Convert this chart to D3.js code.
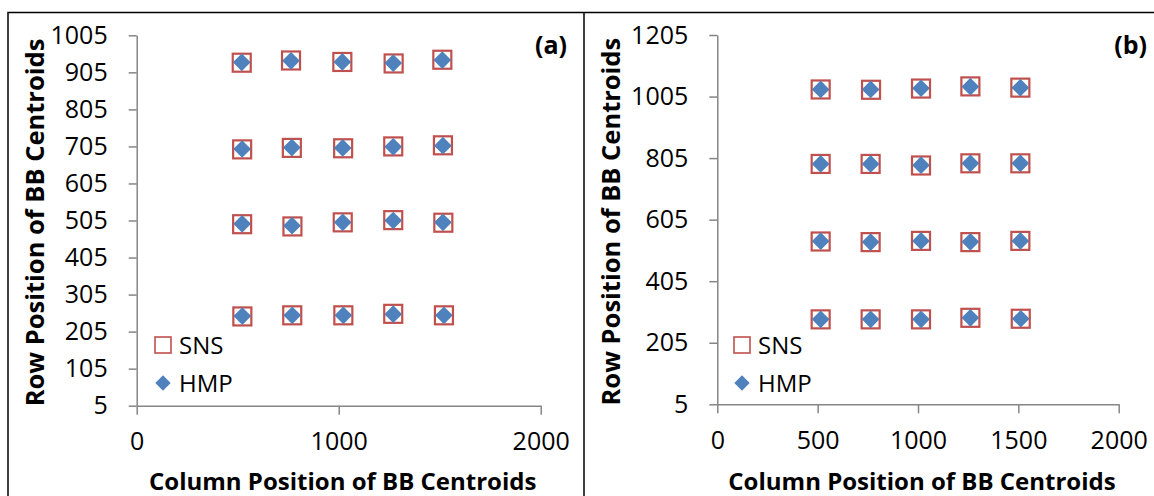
<!DOCTYPE html>
<html>
<head>
<meta charset="utf-8">
<script src="https://cdn.jsdelivr.net/npm/d3@7"></script>
<style>
  html, body { margin: 0; padding: 0; background: #ffffff; }
  svg { display: block; }
  text { font-family: "Open Sans", "Liberation Sans", sans-serif; fill: #000; }
</style>
</head>
<body>
<svg id="chart" width="1154" height="496"></svg>
<script>
// ---- Panel (a): centroid positions (column, row) ----
const aColumnsHMP = [
  [520, 764, 1018, 1270, 1513],
  [522, 768, 1020, 1270, 1516],
  [522, 769, 1020, 1270, 1516],
  [523, 770, 1023, 1270, 1521]
];
const aRowsHMP = [
  [932, 936, 933, 930, 938],
  [698, 702, 701, 704, 707],
  [496, 491, 500, 505, 500],
  [247, 249, 249, 252, 249]
];
const aColumnsSNS = [
  [520, 764, 1018, 1272, 1513],
  [522, 768, 1022, 1270, 1516],
  [522, 771, 1020, 1270, 1518],
  [523, 770, 1023, 1270, 1521]
];
const aRowsSNS = [
  [931, 937, 933, 929, 939],
  [697, 701, 700, 705, 708],
  [495, 489, 500, 506, 499],
  [246, 249, 249, 253, 249]
];
const aXTicks = [0, 1000, 2000];
const aYTicks = [5, 105, 205, 305, 405, 505, 605, 705, 805, 905, 1005];

// ---- Panel (b): centroid positions (column, row) ----
const bColumnsHMP = [
  [515, 764, 1015, 1261, 1510],
  [515, 764, 1015, 1261, 1510],
  [515, 764, 1015, 1261, 1510],
  [515, 764, 1015, 1261, 1512]
];
const bRowsHMP = [
  [1028, 1028, 1032, 1037, 1034],
  [786, 786, 782, 788, 788],
  [535, 532, 536, 533, 536],
  [281, 281, 281, 286, 283]
];
const bColumnsSNS = [
  [515, 766, 1015, 1261, 1510],
  [515, 764, 1015, 1261, 1510],
  [515, 764, 1015, 1261, 1510],
  [515, 764, 1015, 1261, 1512]
];
const bRowsSNS = [
  [1028, 1027, 1031, 1038, 1034],
  [786, 786, 781, 788, 788],
  [534, 532, 536, 532, 536],
  [281, 281, 281, 286, 283]
];
const bXTicks = [0, 500, 1000, 1500, 2000];
const bYTicks = [5, 205, 405, 605, 805, 1005, 1205];

const seriesNames = ["SNS", "HMP"];
const xTitle = "Column Position of BB Centroids";
const yTitle = "Row Position of BB Centroids";

const svg = d3.select("#chart");
const AXIS = "#868686", RED = "#C0504D", BLUE = "#4F81BD";

function toPoints(cols, rows) {
  const pts = [];
  cols.forEach((r, i) => r.forEach((c, j) => pts.push({ x: c, y: rows[i][j] })));
  return pts;
}

// frame: outer box split into two panels by one divider
svg.append("path")
  .attr("d", "M8,500 V12.5 H1160 M584,12.5 V500")
  .attr("fill", "none").attr("stroke", "#000").attr("stroke-width", 1.5);

function drawPanel(cfg) {
  const g = svg.append("g");

  const x = d3.scaleLinear().domain([0, 2000]).range(cfg.xRange);
  const y = d3.scaleLinear().domain(cfg.yDomain).range(cfg.yRange);

  const xAxis = g.append("g")
    .attr("transform", `translate(0,${cfg.yRange[0]})`)
    .call(d3.axisBottom(x).tickValues(cfg.xTicks).tickFormat(d3.format("d"))
      .tickSize(9).tickSizeOuter(0).tickPadding(18));
  const yAxis = g.append("g")
    .attr("transform", `translate(${cfg.xRange[0]},0)`)
    .call(d3.axisLeft(y).tickValues(cfg.yTicks).tickFormat(d3.format("d"))
      .tickSize(8).tickSizeOuter(0).tickPadding(21));
  [xAxis, yAxis].forEach(ax => {
    ax.select(".domain").attr("stroke", AXIS).attr("stroke-width", 1.5);
    ax.selectAll(".tick line").attr("stroke", AXIS).attr("stroke-width", 1.5);
    ax.selectAll(".tick text").attr("font-size", 25).attr("font-family", "Open Sans").attr("fill", "#000");
  });

  // SNS: open red squares
  g.append("g").selectAll("rect")
    .data(toPoints(cfg.snsCols, cfg.snsRows)).join("rect")
    .attr("x", d => x(d.x) - 9).attr("y", d => y(d.y) - 9)
    .attr("width", 18).attr("height", 18)
    .attr("fill", "none").attr("stroke", RED).attr("stroke-width", 2.2);

  // HMP: filled blue diamonds
  const diamond = d3.symbol().type(d3.symbolDiamond2).size(200);
  g.append("g").selectAll("path")
    .data(toPoints(cfg.hmpCols, cfg.hmpRows)).join("path")
    .attr("d", diamond)
    .attr("transform", d => `translate(${x(d.x)},${y(d.y)})`)
    .attr("fill", BLUE);

  // legend
  const lg = g.append("g").attr("transform", `translate(${cfg.legend[0]},${cfg.legend[1]})`);
  lg.append("rect").attr("x", -8).attr("y", -8).attr("width", 16).attr("height", 16)
    .attr("fill", "none").attr("stroke", RED).attr("stroke-width", 1.6);
  lg.append("text").attr("x", 16).attr("y", 9).attr("font-size", 24).text(seriesNames[0]);
  lg.append("path").attr("d", d3.symbol().type(d3.symbolDiamond2).size(150))
    .attr("transform", "translate(0,38)").attr("fill", BLUE);
  lg.append("text").attr("x", 16).attr("y", 47).attr("font-size", 24).text(seriesNames[1]);

  // axis titles
  g.append("text")
    .attr("x", (cfg.xRange[0] + cfg.xRange[1]) / 2 + 4).attr("y", 490)
    .attr("text-anchor", "middle").attr("font-weight", "bold").attr("font-size", 24)
    .text(xTitle);
  g.append("text")
    .attr("transform", `translate(${cfg.yTitleX},${(cfg.yRange[0] + cfg.yRange[1]) / 2 + 2}) rotate(-90)`)
    .attr("text-anchor", "middle").attr("font-weight", "bold").attr("font-size", 25.5)
    .text(yTitle);

  // panel tag
  g.append("text")
    .attr("x", cfg.tag[0]).attr("y", cfg.tag[1])
    .attr("text-anchor", "end").attr("font-weight", "bold").attr("font-size", 25)
    .text(cfg.label);
}

drawPanel({
  label: "(a)", 
  xRange: [136.7, 540.7], yDomain: [5, 1005], yRange: [405.7, 35.3],
  xTicks: aXTicks, yTicks: aYTicks,
  snsCols: aColumnsSNS, snsRows: aRowsSNS, hmpCols: aColumnsHMP, hmpRows: aRowsHMP,
  legend: [163, 345], yTitleX: 44, tag: [567, 54]
});
drawPanel({
  label: "(b)",
  xRange: [717.3, 1118.7], yDomain: [5, 1205], yRange: [404.3, 35],
  xTicks: bXTicks, yTicks: bYTicks,
  snsCols: bColumnsSNS, snsRows: bRowsSNS, hmpCols: bColumnsHMP, hmpRows: bRowsHMP,
  legend: [742, 345], yTitleX: 620, tag: [1147, 54]
});
</script>
</body>
</html>
